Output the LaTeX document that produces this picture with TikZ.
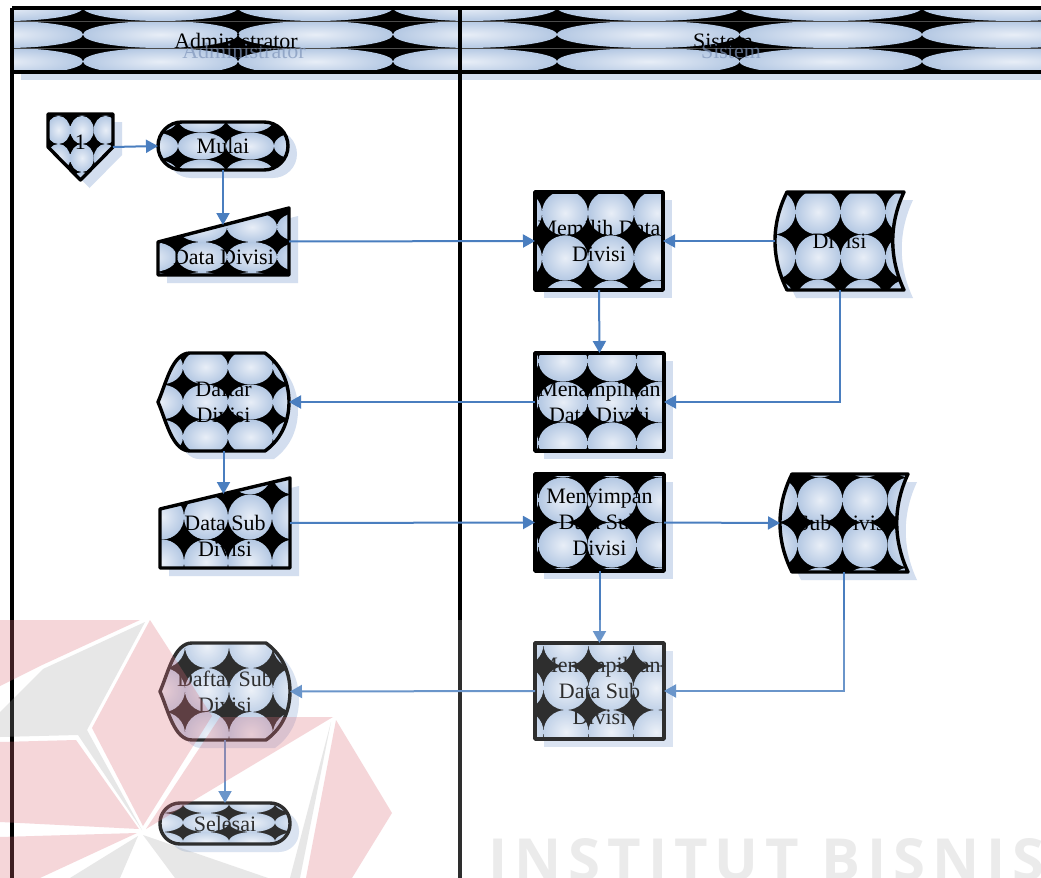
\documentclass[tikz,border=0pt]{standalone}
\usepackage{fontspec}
\setmainfont{Liberation Serif}
\newfontfamily\wmfont[LetterSpace=12]{Open Sans}
\usetikzlibrary{arrows.meta,backgrounds}
\definecolor{ballin}{HTML}{E8EEF7}
\definecolor{ballout}{HTML}{B4C8E3}
\definecolor{shadowc}{HTML}{D3DEEF}
\definecolor{flowc}{HTML}{4A7EBF}
\definecolor{ghost}{HTML}{7F95BA}
\definecolor{wmpink}{HTML}{DC6E7A}
\definecolor{wmgrey}{HTML}{A0A0A0}
\definecolor{wmtext}{HTML}{EBEBEB}

\newcommand\lbl{\fontsize{11}{13}\selectfont}
% black ground with a grid of shaded balls: x0, y0, cell w, cell h, nx, ny
\newcommand\ballgrid[6]{%
  \fill[black] (path picture bounding box.south west) rectangle (path picture bounding box.north east);
  \foreach \i in {0,...,#5}{%
    \foreach \j in {0,...,#6}{%
      \shade[inner color=ballin,outer color=ballout]
        ({#1+\i*#3},{#2+\j*#4}) ellipse [x radius={#3/4*1pt},y radius={#4/4*1pt}];
    }%
  }%
}

\begin{document}
\begin{tikzpicture}[x=0.5pt,y=-0.5pt,
  item/.style={rectangle,inner sep=0pt,outer sep=0pt,align=center,font=\lbl},
  outline/.style={draw=black,line width=1.7pt,line join=round},
  drop/.style={fill=shadowc},
  flow/.style={draw=flowc,line width=1pt,-{Triangle[length=6pt,width=6.5pt]}},
  lane/.style={draw=black,line width=2pt},
  seam/.style={draw=black!70,line width=0.4pt},
  procpath/.style={insert path={(#1.north west) rectangle (#1.south east)}},
  termpath/.style 2 args={rounded corners=#2,insert path={(#1.north west) rectangle (#1.south east)}},
  manpath/.style 2 args={insert path={(#1.south west) -- (#1.south east) -- (#1.north east) -- ([yshift=-#2]#1.north west) -- cycle}},
  offpath/.style={insert path={(#1.north west) -- (#1.north east) -- ([yshift=-16.5pt]#1.north east) -- (#1.south) -- ([yshift=-16.5pt]#1.north west) -- cycle}},
  storepath/.style={insert path={([xshift=6pt]#1.north west) -- (#1.north east)
    .. controls ([xshift=-7.5pt,yshift=-16pt]#1.north east) and ([xshift=-7.5pt,yshift=16pt]#1.south east) .. (#1.south east)
    -- ([xshift=6pt]#1.south west)
    .. controls ([xshift=-2pt,yshift=16pt]#1.south west) and ([xshift=-2pt,yshift=-16pt]#1.north west) .. cycle}},
  dispath/.style={insert path={(#1.west)
    .. controls ([xshift=4pt,yshift=9pt]#1.west) and ([xshift=7pt]#1.north west) .. ([xshift=16pt]#1.north west)
    -- ([xshift=-12pt]#1.north east)
    .. controls ([xshift=-3pt,yshift=-6.5pt]#1.north east) and ([yshift=8.5pt]#1.east) .. (#1.east)
    .. controls ([yshift=-8.5pt]#1.east) and ([xshift=-3pt,yshift=6.5pt]#1.south east) .. ([xshift=-12pt]#1.south east)
    -- ([xshift=16pt]#1.south west)
    .. controls ([xshift=7pt]#1.south west) and ([xshift=4pt,yshift=-9pt]#1.west) .. cycle}}]
  \useasboundingbox (0,0) rectangle (1041,878);

  % lane titles (with their shadow text)
  \node[item,text=ghost,opacity=0.7] (adminShade) at (244,51) {Administrator};
  \node[item,text=ghost,opacity=0.7] (sistemShade) at (731,51) {Sistem};
  \node[item] (admin) at (236,41) {Administrator};
  \node[item] (sistem) at (723,41) {Sistem};

  % Administrator
  \node[item,minimum width=32.5pt,minimum height=33pt,
    label={[item,name=offText,yshift=2.5pt]center:1}] (off) at (80.5,147) {};
  \node[item,minimum width=65pt,minimum height=24pt] (mulai) at (223,146) {Mulai};
  \node[item,minimum width=65.5pt,minimum height=33.5pt,
    label={[item,name=dinText,yshift=-8pt]center:Data Divisi}] (din) at (223.5,241.5) {};
  \node[item,minimum width=65.5pt,minimum height=49pt] (daftar1) at (223.5,402) {Daftar\\Divisi};
  \node[item,minimum width=65pt,minimum height=45pt,
    label={[item,name=dsubText,yshift=-6.5pt]center:{Data Sub\\Divisi}}] (dsub) at (225,523) {};
  \node[item,minimum width=65pt,minimum height=48.5pt] (daftar2) at (225,691.5) {Daftar Sub\\Divisi};
  \node[item,minimum width=65pt,minimum height=20.5pt] (selesai) at (225,823.5) {Selesai};
  \coordinate (dinTop) at (223,225);
  \coordinate (dsubTop) at (223.5,494);

  % Sistem
  \node[item,minimum width=64pt,minimum height=49pt] (memilih) at (599,241) {Memilih Data\\Divisi};
  \node[item,minimum width=64.5pt,minimum height=49pt] (divisi) at (839.5,241) {Divisi};
  \node[item,minimum width=64.5pt,minimum height=49pt] (tampil1) at (599.5,402) {Menampilkan\\Data Divisi};
  \node[item,minimum width=64.5pt,minimum height=48.5pt] (simpan) at (599.5,522.5) {Menyimpan\\Data Sub\\Divisi};
  \node[item,minimum width=64pt,minimum height=49pt] (subdiv) at (844,523) {Sub Divisi};
  \node[item,minimum width=64.5pt,minimum height=48pt] (tampil2) at (599.5,691) {Menampilkan\\Data Sub\\Divisi};

  \begin{scope}[on background layer]
    \fill[white] (0,0) rectangle (1041,878);
    % shadows
    \begin{scope}[transform canvas={xshift=4.5pt,yshift=-4pt}]
      \fill[shadowc] (12,8) rectangle (1045,72);
      \path[drop] [offpath=off];
      \path[drop] [termpath={mulai}{12pt}];
      \path[drop] [manpath={din}{17pt}];
      \path[drop] [dispath=daftar1];
      \path[drop] [manpath={dsub}{15.5pt}];
      \path[drop] [dispath=daftar2];
      \path[drop] [termpath={selesai}{10pt}];
      \path[drop] [procpath=memilih];
      \path[drop] [storepath=divisi];
      \path[drop] [procpath=tampil1];
      \path[drop] [procpath=simpan];
      \path[drop] [storepath=subdiv];
      \path[drop] [procpath=tampil2];
    \end{scope}
    % lane header
    \path[path picture={\ballgrid{5.5}{7.5}{155}{27}{3}{2}}] (12,8) rectangle (460,72);
    \path[path picture={\ballgrid{465.75}{7.5}{182.5}{27}{3}{2}}] (460,8) rectangle (1045,72);
    \draw[seam] (12,21) -- (1045,21) (12,48) -- (1045,48);
    \draw[lane] (12,8) -- (1045,8) (12,72) -- (1045,72);
    \draw[lane] (12,8) -- (12,880) (460,8) -- (460,880);
    % symbols
    \path[outline,path picture={\ballgrid{35}{102}{23.5}{28}{4}{3}}] [offpath=off];
    \path[outline,path picture={\ballgrid{154}{119}{48}{27}{3}{2}}] [termpath={mulai}{12pt}];
    \path[outline,path picture={\ballgrid{152}{197}{50}{30}{3}{3}}] [manpath={din}{17pt}];
    \path[outline,path picture={\ballgrid{160.5}{332}{45}{35}{3}{4}}] [dispath=daftar1];
    \path[outline,path picture={\ballgrid{162}{472}{44}{45}{3}{2}}] [manpath={dsub}{15.5pt}];
    \path[outline,path picture={\ballgrid{163}{646}{44}{44}{3}{2}}] [dispath=daftar2];
    \path[outline,path picture={\ballgrid{160}{803.5}{46}{19}{3}{2}}] [termpath={selesai}{10pt}];
    \path[outline,path picture={\ballgrid{519}{168}{46}{45}{3}{3}}] [procpath=memilih];
    \path[outline,path picture={\ballgrid{773}{167}{45}{45}{3}{3}}] [storepath=divisi];
    \path[outline,path picture={\ballgrid{514}{361}{49}{41}{3}{2}}] [procpath=tampil1];
    \path[outline,path picture={\ballgrid{514}{455}{49}{45}{3}{3}}] [procpath=simpan];
    \path[outline,path picture={\ballgrid{775}{455}{45}{45}{3}{3}}] [storepath=subdiv];
    \path[outline,path picture={\ballgrid{521}{644}{45}{44}{3}{2}}] [procpath=tampil2];
  \end{scope}

  % flows
  \draw[flow] (off.east) -- (mulai.west);
  \draw[flow] (mulai.south) -- (dinTop);
  \draw[flow] (din.east) -- (memilih.west);
  \draw[flow] (divisi.west) -- (memilih.east);
  \draw[flow] (memilih.south) -- (tampil1.north);
  \draw[flow] (divisi.south) |- (tampil1.east);
  \draw[flow] (tampil1.west) -- (daftar1.east);
  \draw[flow] (daftar1.south) -- (dsubTop);
  \draw[flow] (dsub.east) -- (simpan.west);
  \draw[flow] (simpan.east) -- (subdiv.west);
  \draw[flow] (simpan.south) -- (tampil2.north);
  \draw[flow] (subdiv.south) |- (tampil2.east);
  \draw[flow] (tampil2.west) -- (daftar2.east);
  \draw[flow] (daftar2.south) -- (selesai.north);

  % watermark
  \fill[white,opacity=0.18] (25,620) rectangle (1041,878);
  \begin{scope}[opacity=0.28]
    \fill[wmpink] (0,620) -- (140,620) -- (40,666) -- (0,686) -- cycle;
    \fill[wmpink] (150,620) -- (212,716) -- (143,826) -- (92,728) -- cycle;
    \fill[wmpink] (220,717) -- (333,717) -- (146,829) -- cycle;
    \fill[wmpink] (0,742) -- (76,740) -- (139,829) -- (0,822) -- cycle;
    \fill[wmpink] (0,837) -- (137,833) -- (40,878) -- (0,878) -- cycle;
    \fill[wmpink] (336,720) -- (392,813) -- (352,878) -- (306,878) -- cycle;
  \end{scope}
  \begin{scope}[opacity=0.25]
    \fill[wmgrey] (145,622) -- (43,669) -- (0,712) -- (0,737) -- (78,735) -- (142,830) -- (87,730) -- cycle;
    \fill[wmgrey] (138,836) -- (70,878) -- (120,878) -- cycle;
    \fill[wmgrey] (143,835) -- (175,878) -- (268,878) -- cycle;
    \fill[wmgrey] (331,722) -- (290,878) -- (300,878) -- cycle;
  \end{scope}
  \node[anchor=base west,inner sep=0pt,text=wmtext,font=\wmfont\bfseries\fontsize{29pt}{29pt}\selectfont] (wmark) at (488,880) {INSTITUT BISNIS};
\end{tikzpicture}
\end{document}
